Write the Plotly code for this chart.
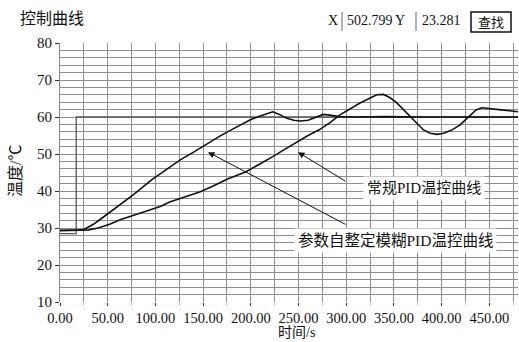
import plotly.graph_objects as go

# ---------------- data ----------------
time_fuzzy = [0, 10, 20, 25, 30, 35, 42, 50, 60, 77, 96, 110, 126, 140, 154, 168, 180, 190, 200,
              209, 216, 223, 230, 237, 245, 252, 260, 268, 276, 283, 292, 310, 340, 380, 420, 460, 480]
temp_fuzzy = [29.4, 29.3, 29.4, 29.6, 30.2, 31.0, 32.3, 33.8, 35.8, 39.0, 43.0, 45.6, 48.4, 50.5, 52.8,
              54.9, 56.6, 58.0, 59.3, 60.2, 60.9, 61.4, 60.7, 59.7, 59.1, 58.9, 59.1, 59.8, 60.7, 60.5,
              60.1, 60.0, 60.1, 60.0, 60.0, 60.0, 60.0]

time_pid = [0, 20, 30, 40, 52, 63, 77, 90, 105, 115, 126, 147, 160, 175, 195, 210, 223, 235, 248, 260,
            272, 283, 293, 304, 314, 324, 332, 339, 346, 353, 360, 367, 374, 381, 388, 395, 402, 410,
            419, 429, 436, 442, 450, 460, 471, 480]
temp_pid = [29.3, 29.4, 29.5, 30.0, 31.0, 32.2, 33.3, 34.5, 35.8, 37.0, 38.0, 39.8, 41.3, 43.2, 45.2,
            47.3, 49.3, 51.2, 53.2, 55.0, 56.6, 58.5, 60.5, 62.2, 63.7, 65.0, 66.0, 66.1, 65.2, 63.8,
            62.0, 60.0, 58.2, 56.5, 55.6, 55.3, 55.6, 56.4, 57.8, 60.3, 61.9, 62.5, 62.2, 62.0, 61.7, 61.4]

setpoint_t = [0, 17, 17, 480]
setpoint_v = [28.5, 28.5, 60, 60]

x_tickvals = [0, 50, 100, 150, 200, 250, 300, 350, 400, 450]
x_ticktext = ["0.00", "50.00", "100.00", "150.00", "200.00", "250.00", "300.00", "350.00", "400.00", "450.00"]
y_tickvals = [10, 20, 30, 40, 50, 60, 70, 80]

label_pid = "常规PID温控曲线"
label_fuzzy = "参数自整定模糊PID温控曲线"

# ---------------- geometry helpers ----------------
W, H = 519, 342
L, R, T, B = 60, 518, 43, 302


def px(xp):
    return (xp - L) / (R - L)


def py(yp):
    return (B - yp) / (B - T)


SERIF = "Liberation Serif, Noto Sans CJK SC"
CJK = "Noto Sans CJK SC"

fig = go.Figure()
fig.add_trace(go.Scatter(x=setpoint_t, y=setpoint_v, mode="lines",
                         line=dict(color="#555555", width=1.3), showlegend=False, hoverinfo="skip"))
fig.add_trace(go.Scatter(x=time_fuzzy, y=temp_fuzzy, mode="lines",
                         line=dict(color="#111111", width=1.6), showlegend=False))
fig.add_trace(go.Scatter(x=time_pid, y=temp_pid, mode="lines",
                         line=dict(color="#111111", width=1.6), showlegend=False))

grid_col = "#8f8f8f"
fig.update_xaxes(range=[0, 480], tickvals=x_tickvals, ticktext=x_ticktext,
                 showgrid=True, gridcolor=grid_col, gridwidth=1,
                 ticks="outside", ticklen=3, tickcolor="#333", zeroline=False,
                 showline=False,
                 minor=dict(dtick=25, tick0=0, showgrid=True, gridcolor=grid_col, gridwidth=1,
                            ticks="outside", ticklen=2, tickcolor="#bbbbbb"),
                 tickfont=dict(family=SERIF, size=14.5, color="#111"))
fig.update_yaxes(range=[10, 80], tickvals=y_tickvals,
                 showgrid=True, gridcolor=grid_col, gridwidth=1,
                 ticks="outside", ticklen=4, tickcolor="#333", zeroline=False,
                 showline=True, linecolor="#888888", linewidth=1,
                 minor=dict(dtick=2, tick0=10, showgrid=True, gridcolor=grid_col, gridwidth=1),
                 tickfont=dict(family=SERIF, size=15, color="#111"))

annotations = [
    # title
    dict(x=px(18), y=py(17), xref="paper", yref="paper", text="控制曲线", showarrow=False,
         xanchor="left", yanchor="middle", font=dict(family=CJK, size=16, color="#111")),
    # cursor widgets
    dict(x=px(333), y=py(21), xref="paper", yref="paper", text="X", showarrow=False,
         xanchor="center", yanchor="middle", font=dict(family=SERIF, size=14, color="#111")),
    dict(x=px(345), y=py(21), xref="paper", yref="paper", text="502.799", showarrow=False,
         xanchor="left", yanchor="middle", font=dict(family=SERIF, size=14, color="#111")),
    dict(x=px(400), y=py(21), xref="paper", yref="paper", text="Y", showarrow=False,
         xanchor="center", yanchor="middle", font=dict(family=SERIF, size=14, color="#111")),
    dict(x=px(420), y=py(21), xref="paper", yref="paper", text="23.281", showarrow=False,
         xanchor="left", yanchor="middle", font=dict(family=SERIF, size=14, color="#111")),
    dict(x=px(491), y=py(22), xref="paper", yref="paper", text="查找", showarrow=False,
         xanchor="center", yanchor="middle", font=dict(family=CJK, size=13, color="#111")),
    # axis titles
    dict(x=px(296), y=py(332), xref="paper", yref="paper", text="时间/s", showarrow=False,
         xanchor="center", yanchor="middle", font=dict(family=SERIF, size=14, color="#111")),
    dict(x=px(15), y=py(171), xref="paper", yref="paper", text="温度/℃", showarrow=False,
         textangle=-90, xanchor="center", yanchor="middle", font=dict(family=SERIF, size=16, color="#111")),
    # arrows
    dict(x=249.4, y=50.5, xref="x", yref="y", text="", showarrow=True, ax=49, ay=30,
         arrowhead=2, arrowsize=1.3, arrowwidth=1, arrowcolor="#111"),
    dict(x=155.1, y=50.5, xref="x", yref="y", text="", showarrow=True, ax=139, ay=73,
         arrowhead=2, arrowsize=1.3, arrowwidth=1, arrowcolor="#111"),
    # labels
    dict(x=px(424), y=py(188), xref="paper", yref="paper", text=label_pid, showarrow=False,
         xanchor="center", yanchor="middle", bgcolor="white", borderpad=3,
         font=dict(family=SERIF, size=15, color="#111")),
    dict(x=px(395), y=py(240), xref="paper", yref="paper", text=label_fuzzy, showarrow=False,
         xanchor="center", yanchor="middle", bgcolor="white", borderpad=3,
         font=dict(family=SERIF, size=15.5, color="#111")),
]

shapes = [
    dict(type="line", xref="paper", yref="paper", x0=px(342), x1=px(342), y0=py(12), y1=py(31),
         line=dict(color="#999999", width=1.5)),
    dict(type="line", xref="paper", yref="paper", x0=px(416), x1=px(416), y0=py(12), y1=py(31),
         line=dict(color="#999999", width=1.5)),
    dict(type="rect", xref="paper", yref="paper", x0=px(471), x1=px(511), y0=py(12), y1=py(32),
         line=dict(color="#111111", width=1.5), fillcolor="white", layer="below"),
]

fig.update_layout(width=W, height=H, margin=dict(l=L, r=W - R, t=T, b=H - B),
                  paper_bgcolor="white", plot_bgcolor="white",
                  annotations=annotations, shapes=shapes, showlegend=False)

fig.write_html("out.html", config={"displayModeBar": False},
               post_script="document.body.style.margin='0';")
